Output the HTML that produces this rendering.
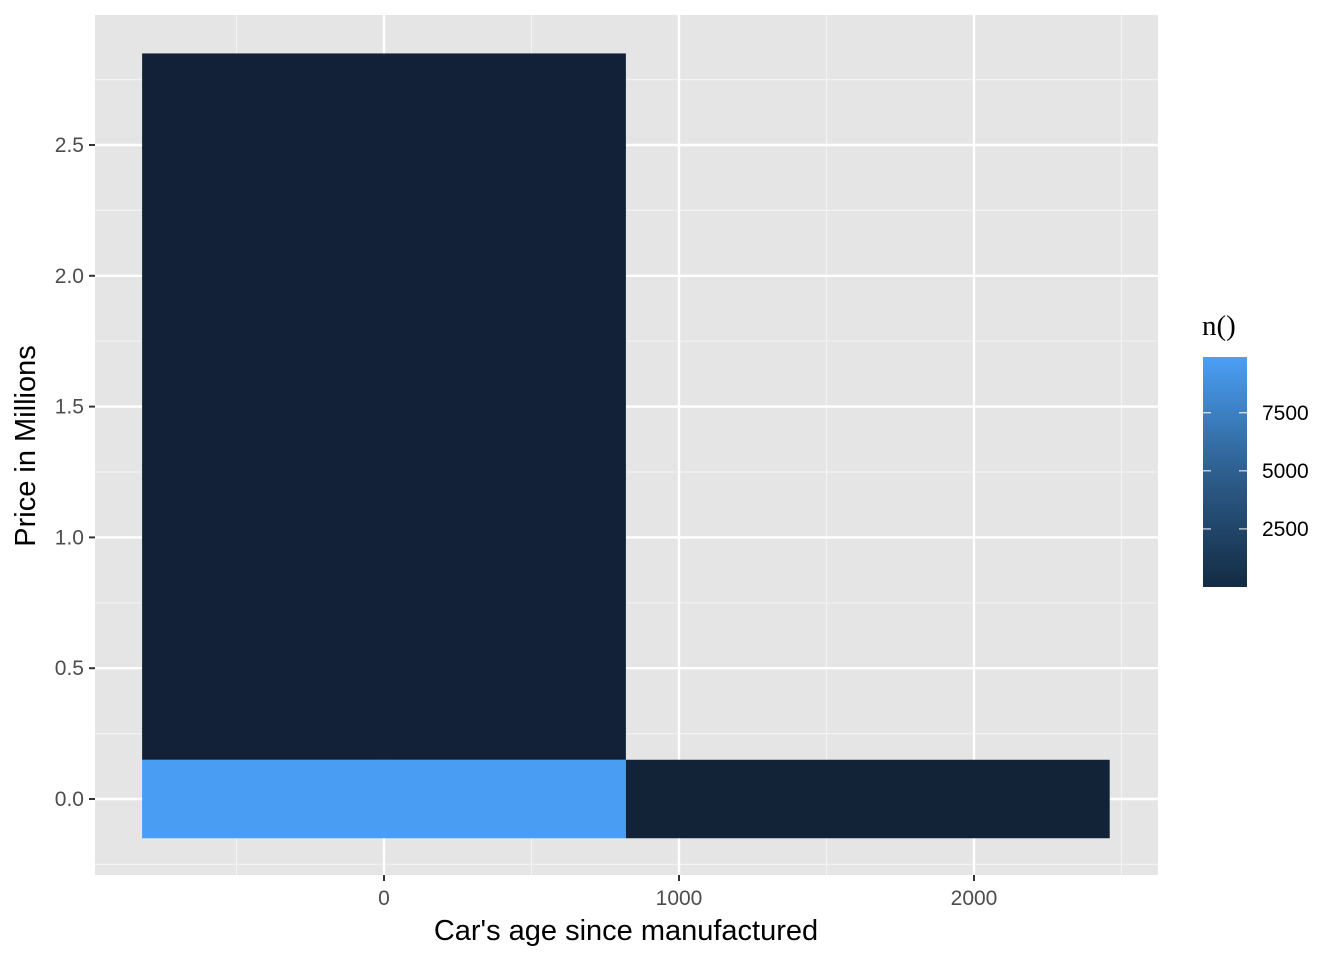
<!DOCTYPE html>
<html><head><meta charset="utf-8"><style>
body{margin:0;background:#fff;font-family:"Liberation Sans",Arial,sans-serif}
</style></head><body>
<svg id="chart" width="1344" height="960" xmlns="http://www.w3.org/2000/svg">
<defs><linearGradient id="cb" x1="0" y1="1" x2="0" y2="0"><stop offset="0" stop-color="#132B43"/><stop offset="0.5" stop-color="#2E5F8E"/><stop offset="1" stop-color="#4A9FF5"/></linearGradient></defs>
<rect x="95" y="15" width="1063" height="860" fill="#e5e5e5"/>
<g id="grid"></g><g id="tiles"></g><g id="axes"></g>
<text x="626" y="940" text-anchor="middle" font-size="29" fill="#000">Car's age since manufactured</text>
<text transform="translate(35,446) rotate(-90)" text-anchor="middle" font-size="29" fill="#000">Price in Millions</text>
<text x="1202" y="335" font-size="29" font-family="Liberation Serif,serif">n()</text>
<rect x="1203" y="357" width="44" height="230" fill="url(#cb)"/>
<g id="legend"></g>
</svg>
<script>
const xBinStart=[-820,820,-820];
const xBinEnd=[820,2460,820];
const yBinStart=[-0.15,-0.15,0.15];
const yBinEnd=[0.15,0.15,2.85];
const counts=[9700,60,30];
const xTicks=[0,1000,2000];
const xMinor=[-500,500,1500,2500];
const yTicks=[0,0.5,1,1.5,2,2.5];
const yTickLabels=["0.0","0.5","1.0","1.5","2.0","2.5"];
const yMinor=[-0.25,0.25,0.75,1.25,1.75,2.25,2.75];
const legendTicks=[2500,5000,7500];
const nMin=1,nMax=9900;
const NS="http://www.w3.org/2000/svg";
const sx=v=>384+v*0.295, sy=v=>799-v*261.6;
const ly=v=>587-(v-nMin)/(nMax-nMin)*230;
function mk(p,t,a){const e=document.createElementNS(NS,t);for(const k in a)e.setAttribute(k,a[k]);p.appendChild(e);return e;}
function col(n){const t=Math.max(0,Math.min(1,(n-nMin)/(nMax-nMin)));const a=[0x12,0x21,0x36],b=[0x4A,0xA0,0xF6];return "rgb("+a.map((c,i)=>Math.round(c+(b[i]-c)*t)).join(",")+")";}
const g=document.getElementById('grid'),tl=document.getElementById('tiles'),ax=document.getElementById('axes'),lg=document.getElementById('legend');
xMinor.forEach(v=>{const e=mk(g,'line',{x1:sx(v),x2:sx(v),y1:15,y2:875,stroke:'#f2f2f2','stroke-width':1.2});

});
yMinor.forEach(v=>{const e=mk(g,'line',{x1:95,x2:1158,y1:sy(v),y2:sy(v),stroke:'#f2f2f2','stroke-width':1.2});

});
xTicks.forEach(v=>{const e=mk(g,'line',{x1:sx(v),x2:sx(v),y1:15,y2:875,stroke:'#fff','stroke-width':2.4});


const t=mk(ax,'line',{x1:sx(v),x2:sx(v),y1:875,y2:881,stroke:'#333','stroke-width':2});


const l=mk(ax,'text',{x:sx(v),y:905,'text-anchor':'middle','font-size':21,fill:'#4d4d4d'});l.textContent=v;

});
yTicks.forEach((v,i)=>{const e=mk(g,'line',{x1:95,x2:1158,y1:sy(v),y2:sy(v),stroke:'#fff','stroke-width':2.4});


const t=mk(ax,'line',{x1:89,x2:95,y1:sy(v),y2:sy(v),stroke:'#333','stroke-width':2});


const l=mk(ax,'text',{x:84,y:sy(v)+7,'text-anchor':'end','font-size':21,fill:'#4d4d4d'});l.textContent=yTickLabels[i];

});
counts.forEach((n,i)=>{const r=mk(tl,'rect',{x:sx(xBinStart[i]),y:sy(yBinEnd[i]),width:sx(xBinEnd[i])-sx(xBinStart[i]),height:sy(yBinStart[i])-sy(yBinEnd[i]),fill:col(n)});

});
legendTicks.forEach(v=>{const y=ly(v);
mk(lg,'line',{x1:1203,x2:1211,y1:y,y2:y,stroke:'#fff','stroke-width':1});
mk(lg,'line',{x1:1239,x2:1247,y1:y,y2:y,stroke:'#fff','stroke-width':1});
const l=mk(lg,'text',{x:1262,y:y+7,'font-size':21,fill:'#000'});l.textContent=v;

});
</script>
</body></html>
